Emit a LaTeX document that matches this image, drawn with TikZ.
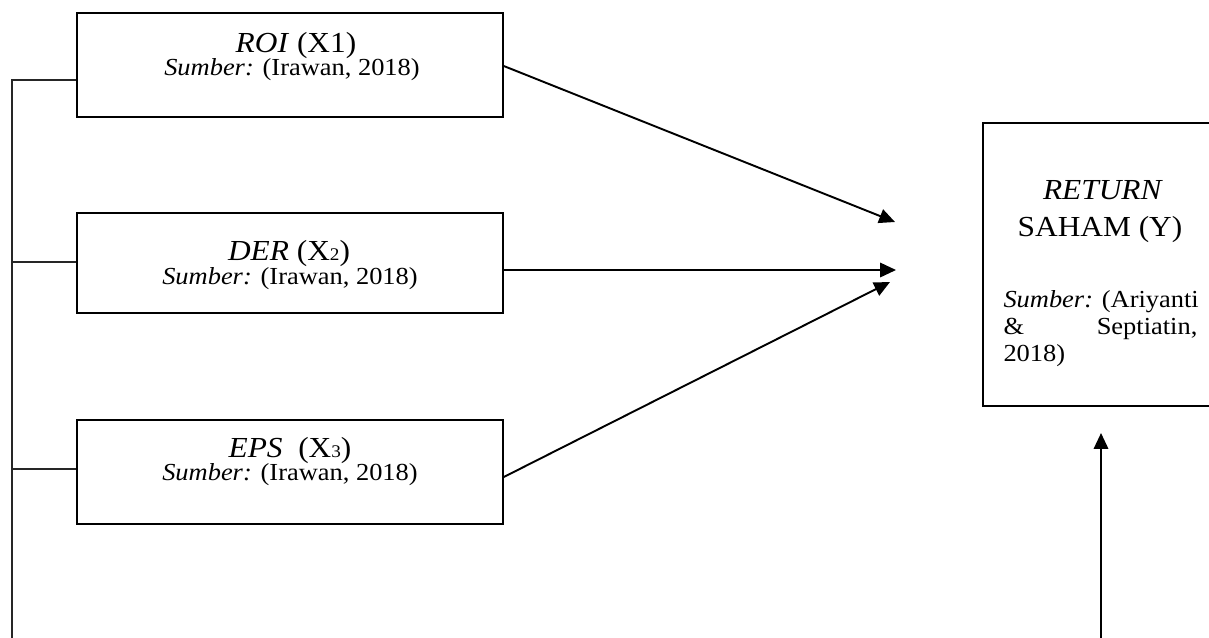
\documentclass[tikz,border=0pt]{standalone}
\usepackage{fontspec}
\usepackage{graphicx}
\setmainfont{Liberation Serif}
\usetikzlibrary{arrows.meta}
\newcommand{\sx}[1]{\scalebox{1.08}[1]{#1}}
\newcommand{\sml}[1]{{\fontsize{7.4}{8}\selectfont #1}}
\begin{document}
\begin{tikzpicture}[x=0.41667pt,y=-0.41667pt,
  box/.style={draw, line width=0.65pt, inner sep=0pt},
  xbox/.style={box, minimum width=177.5pt, minimum height=43pt},
  ttl/.style={anchor=base, inner sep=0pt, text depth=0pt, font=\fontsize{12.1}{14}\selectfont},
  src/.style={anchor=base, inner sep=0pt, text depth=0pt, font=\fontsize{10.2}{12}\selectfont},
  srcl/.style={src, anchor=base west},
  arr/.style={-{Triangle[length=6.6pt,width=6pt]}, line width=0.8pt},
  lnk/.style={line width=0.5pt, draw=black!85}]
\useasboundingbox (0,0) rectangle (1209,637);
\clip (0,0) rectangle (1209,637);

% left boxes
\node[xbox, minimum height=43.3pt] (roi) at (290,65) {};
\node[xbox, minimum height=41.7pt] (der) at (290,263) {};
\node[xbox, minimum height=43.3pt] (eps) at (290,472) {};

\node[ttl] (roiT) at (296,52) {\sx{\textit{ROI} (X1)}};
\node[src] (roiS) at (292,75) {\sx{\textit{Sumber:} (Irawan, 2018)}};
\node[ttl] (derT) at (289,260) {\sx{\textit{DER} (X\sml{2})}};
\node[src] (derS) at (290,284) {\sx{\textit{Sumber:} (Irawan, 2018)}};
\node[ttl] (epsT) at (290,457) {\sx{\textit{EPS}\ \ (X\sml{3})}};
\node[src] (epsS) at (290,480) {\sx{\textit{Sumber:} (Irawan, 2018)}};

% right box
\node[box, line width=0.75pt, minimum width=105pt, minimum height=117.9pt] (ret) at (1109,264.5) {};
\node[ttl] (retT1) at (1103,199) {\sx{\textit{RETURN}}};
\node[ttl] (retT2) at (1100,236) {\sx{SAHAM (Y)}};
\node[srcl] (retS1) at (1003,307) {\sx{\textit{Sumber:} (Ariyanti}};
\node[srcl] (retS2) at (1003,334) {\sx{\makebox[74.8pt][s]{\&\hfill Septiatin,}}};
\node[srcl] (retS3) at (1003,361) {\sx{2018)}};

% left bracket
\coordinate (top) at (12,80);
\coordinate (bot) at (12,640);
\coordinate (l2) at (12,262);
\coordinate (l3) at (12,469);
\draw[lnk] (bot) -- (top) -- (top -| roi.west);
\draw[lnk] (l2) -- (l2 -| der.west);
\draw[lnk] (l3) -- (l3 -| eps.west);

% arrows
\coordinate (t1) at (895,222);
\coordinate (t2) at (896,270);
\coordinate (t3) at (890,282);
\coordinate (s1) at (503,66);
\coordinate (s3) at (503,477);
\draw[arr] (s1 -| roi.east) -- (t1);
\draw[arr] (t2 -| der.east) -- (t2);
\draw[arr] (s3 -| eps.east) -- (t3);

\coordinate (b0) at (1101,640);
\coordinate (b1) at (1101,433);
\draw[arr] (b0) -- (b1);
\end{tikzpicture}
\end{document}
